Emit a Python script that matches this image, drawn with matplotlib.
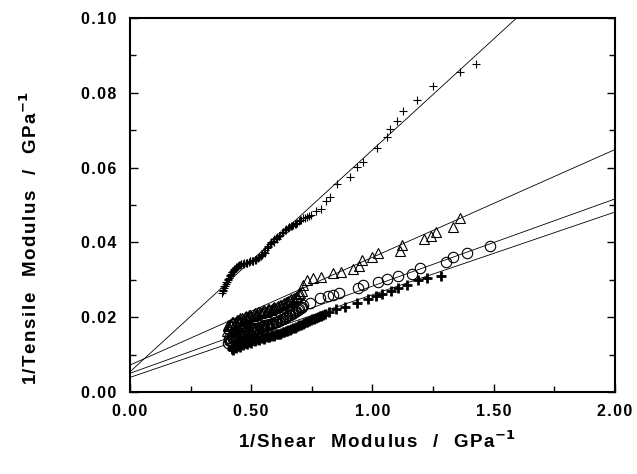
import matplotlib
matplotlib.use("Agg")
import matplotlib.pyplot as plt
from matplotlib.ticker import MultipleLocator, FuncFormatter
import numpy as np

plt.rcParams['font.family'] = ['Liberation Sans', 'DejaVu Sans']
plt.rcParams['mathtext.default'] = 'bf'

# Series 1: thin '+' (steep)
s1_x = [0.379, 0.384, 0.388, 0.392, 0.396, 0.400, 0.404, 0.408, 0.412, 0.417, 0.421, 0.425,
        0.429, 0.433, 0.437, 0.441, 0.445, 0.450, 0.454, 0.460, 0.466, 0.472, 0.478, 0.484,
        0.491, 0.497, 0.503, 0.509, 0.515, 0.521, 0.528, 0.534, 0.540, 0.546, 0.553, 0.559,
        0.565, 0.571, 0.577, 0.584, 0.590, 0.596, 0.602, 0.608, 0.614, 0.620, 0.627, 0.633,
        0.639, 0.645, 0.652, 0.658, 0.664, 0.672, 0.680, 0.689, 0.697, 0.705, 0.713, 0.722,
        0.730, 0.738, 0.746, 0.767, 0.788, 0.808, 0.825, 0.854, 0.907, 0.936, 0.961, 1.019,
        1.060, 1.072, 1.101, 1.126, 1.184, 1.249, 1.361, 1.427,
        0.382, 0.390, 0.398, 0.406, 0.414, 0.423, 0.431, 0.439, 0.447, 0.457, 0.469, 0.481,
        0.494, 0.506, 0.518, 0.531, 0.543, 0.556, 0.568, 0.580, 0.593, 0.605, 0.617, 0.630,
        0.642, 0.655, 0.668, 0.685, 0.701]
s1_y = [0.0265, 0.0272, 0.0278, 0.0284, 0.0289, 0.0295, 0.0299, 0.0305, 0.0310, 0.0316, 0.0321, 0.0323,
        0.0326, 0.0330, 0.0332, 0.0335, 0.0337, 0.0339, 0.0340, 0.0341, 0.0342, 0.0344, 0.0345, 0.0346,
        0.0348, 0.0349, 0.0350, 0.0351, 0.0353, 0.0355, 0.0358, 0.0361, 0.0364, 0.0369, 0.0374, 0.0379,
        0.0385, 0.0390, 0.0396, 0.0400, 0.0404, 0.0408, 0.0412, 0.0414, 0.0417, 0.0421, 0.0425, 0.0429,
        0.0433, 0.0436, 0.0439, 0.0441, 0.0444, 0.0446, 0.0449, 0.0453, 0.0457, 0.0461, 0.0465, 0.0466,
        0.0468, 0.0470, 0.0473, 0.0484, 0.0489, 0.0511, 0.0521, 0.0556, 0.0575, 0.0602, 0.0615, 0.0652,
        0.0682, 0.0703, 0.0725, 0.0751, 0.0781, 0.0818, 0.0856, 0.0877,
        0.0270, 0.0283, 0.0293, 0.0301, 0.0314, 0.0321, 0.0329, 0.0333, 0.0337, 0.0342, 0.0342, 0.0346,
        0.0349, 0.0350, 0.0354, 0.0360, 0.0366, 0.0372, 0.0387, 0.0398, 0.0402, 0.0410, 0.0416, 0.0427,
        0.0434, 0.0440, 0.0444, 0.0450, 0.0459]

# Series 2: open triangles
s2_x = [0.400, 0.403, 0.408, 0.412, 0.418, 0.425, 0.432, 0.440, 0.448, 0.456, 0.465, 0.474,
        0.483, 0.492, 0.501, 0.510, 0.520, 0.530, 0.540, 0.550, 0.560, 0.570, 0.580, 0.590,
        0.600, 0.612, 0.624, 0.636, 0.648, 0.660, 0.672, 0.684, 0.696, 0.708, 0.715, 0.729,
        0.756, 0.790, 0.836, 0.869, 0.921, 0.946, 0.958, 0.997, 1.024, 1.116, 1.124, 1.212,
        1.244, 1.262, 1.333, 1.361,
        0.405, 0.415, 0.422, 0.436, 0.444, 0.452, 0.461, 0.470, 0.479, 0.488, 0.497, 0.506,
        0.515, 0.525, 0.535, 0.545, 0.555, 0.565, 0.575, 0.585, 0.595, 0.606, 0.618, 0.630,
        0.642, 0.654, 0.666, 0.678, 0.690, 0.702]
s2_y = [0.0164, 0.0176, 0.0170, 0.0183, 0.0179, 0.0188, 0.0184, 0.0192, 0.0189, 0.0197, 0.0193, 0.0201,
        0.0198, 0.0205, 0.0202, 0.0209, 0.0206, 0.0213, 0.0211, 0.0217, 0.0215, 0.0221, 0.0219, 0.0225,
        0.0224, 0.0230, 0.0233, 0.0238, 0.0241, 0.0246, 0.0250, 0.0255, 0.0263, 0.0270, 0.0287, 0.0299,
        0.0304, 0.0308, 0.0319, 0.0322, 0.0328, 0.0337, 0.0353, 0.0360, 0.0373, 0.0377, 0.0393, 0.0408,
        0.0418, 0.0429, 0.0440, 0.0464,
        0.0180, 0.0178, 0.0186, 0.0186, 0.0193, 0.0191, 0.0198, 0.0196, 0.0202, 0.0200, 0.0206, 0.0204,
        0.0210, 0.0208, 0.0215, 0.0213, 0.0219, 0.0217, 0.0223, 0.0221, 0.0227, 0.0226, 0.0232, 0.0236,
        0.0240, 0.0244, 0.0248, 0.0252, 0.0258, 0.0265]

# Series 3: open circles
s3_x = [0.405, 0.410, 0.416, 0.422, 0.428, 0.435, 0.442, 0.450, 0.458, 0.466, 0.474, 0.482,
        0.490, 0.499, 0.508, 0.517, 0.526, 0.535, 0.545, 0.555, 0.565, 0.575, 0.586, 0.597,
        0.608, 0.620, 0.632, 0.644, 0.656, 0.668, 0.680, 0.692, 0.704, 0.715, 0.742, 0.784,
        0.818, 0.838, 0.863, 0.942, 0.962, 1.024, 1.061, 1.107, 1.162, 1.196, 1.303, 1.331,
        1.391, 1.485,
        0.408, 0.413, 0.419, 0.425, 0.431, 0.438, 0.446, 0.454, 0.462, 0.470, 0.478, 0.486,
        0.495, 0.504, 0.512, 0.521, 0.530, 0.540, 0.550, 0.560, 0.570, 0.580, 0.591, 0.602,
        0.614, 0.626, 0.638, 0.650, 0.662, 0.674, 0.686, 0.698, 0.710]
s3_y = [0.0132, 0.0144, 0.0139, 0.0150, 0.0145, 0.0154, 0.0149, 0.0158, 0.0153, 0.0162, 0.0157, 0.0165,
        0.0161, 0.0168, 0.0165, 0.0172, 0.0169, 0.0175, 0.0173, 0.0179, 0.0177, 0.0183, 0.0181, 0.0187,
        0.0186, 0.0192, 0.0196, 0.0200, 0.0205, 0.0209, 0.0214, 0.0219, 0.0225, 0.0233, 0.0237, 0.0251,
        0.0257, 0.0259, 0.0264, 0.0277, 0.0286, 0.0295, 0.0301, 0.0310, 0.0316, 0.0332, 0.0348, 0.0360,
        0.0371, 0.0390,
        0.0140, 0.0136, 0.0146, 0.0142, 0.0150, 0.0148, 0.0153, 0.0156, 0.0158, 0.0159, 0.0161, 0.0163,
        0.0165, 0.0167, 0.0168, 0.0170, 0.0172, 0.0174, 0.0176, 0.0178, 0.0180, 0.0182, 0.0184, 0.0186,
        0.0189, 0.0194, 0.0198, 0.0202, 0.0207, 0.0211, 0.0216, 0.0222, 0.0228]

# Series 4: bold '+'
s4_x = [0.420, 0.426, 0.432, 0.438, 0.445, 0.452, 0.459, 0.466, 0.474, 0.482, 0.490, 0.498,
        0.507, 0.516, 0.525, 0.534, 0.544, 0.554, 0.564, 0.574, 0.585, 0.596, 0.607, 0.618,
        0.630, 0.642, 0.654, 0.666, 0.679, 0.692, 0.705, 0.718, 0.732, 0.746, 0.760, 0.775,
        0.790, 0.806, 0.822, 0.852, 0.887, 0.935, 0.983, 1.017, 1.038, 1.079, 1.107, 1.141,
        1.189, 1.224, 1.285,
        0.423, 0.429, 0.435, 0.442, 0.449, 0.456, 0.463, 0.470, 0.478, 0.486, 0.494, 0.503,
        0.512, 0.521, 0.530, 0.539, 0.549, 0.559, 0.569, 0.580, 0.591, 0.602, 0.613, 0.624,
        0.636, 0.648, 0.660, 0.673, 0.686, 0.699, 0.712, 0.725, 0.739, 0.753, 0.768, 0.783,
        0.798]
s4_y = [0.0118, 0.0112, 0.0123, 0.0117, 0.0127, 0.0121, 0.0131, 0.0125, 0.0134, 0.0129, 0.0137, 0.0132,
        0.0140, 0.0136, 0.0143, 0.0139, 0.0146, 0.0143, 0.0149, 0.0147, 0.0152, 0.0151, 0.0156, 0.0155,
        0.0160, 0.0162, 0.0166, 0.0169, 0.0172, 0.0176, 0.0180, 0.0184, 0.0188, 0.0192, 0.0196, 0.0200,
        0.0204, 0.0208, 0.0213, 0.0221, 0.0228, 0.0237, 0.0248, 0.0257, 0.0262, 0.0271, 0.0277, 0.0286,
        0.0299, 0.0304, 0.0310,
        0.0115, 0.0120, 0.0120, 0.0125, 0.0124, 0.0128, 0.0128, 0.0132, 0.0131, 0.0135, 0.0134, 0.0138,
        0.0138, 0.0141, 0.0141, 0.0144, 0.0145, 0.0147, 0.0148, 0.0150, 0.0152, 0.0154, 0.0156, 0.0158,
        0.0161, 0.0164, 0.0167, 0.0170, 0.0174, 0.0178, 0.0182, 0.0186, 0.0190, 0.0194, 0.0198, 0.0202,
        0.0206]

# Fitted lines: intercept, slope
fit_intercepts = [0.0054, 0.0072, 0.0050, 0.0039]
fit_slopes = [0.0593, 0.0288, 0.0233, 0.0221]

HS = '\u200a'


def spaced(s):
    return HS.join(s)


fig = plt.figure(figsize=(6.37, 4.74), dpi=100)
ax = fig.add_axes([0.204, 0.173, 0.761, 0.789])

xl = np.array([0.0, 2.0])
for b, m in zip(fit_intercepts, fit_slopes):
    ax.plot(xl, b + m * xl, color='black', lw=0.6, zorder=2)

ax.plot(s1_x, s1_y, ls='none', marker='+', ms=6, mew=0.8, color='black', zorder=3)
ax.plot(s2_x, s2_y, ls='none', marker='^', ms=7.5, mew=0.8, mfc='none', mec='black', zorder=3)
ax.plot(s3_x, s3_y, ls='none', marker='o', ms=7.5, mew=0.8, mfc='none', mec='black', zorder=3)
ax.plot(s4_x, s4_y, ls='none', marker='+', ms=7, mew=2.0, color='black', zorder=3)

ax.set_xlim(0, 2.0)
ax.set_ylim(0, 0.10)
ax.xaxis.set_major_locator(MultipleLocator(0.5))
ax.xaxis.set_minor_locator(MultipleLocator(0.25))
ax.yaxis.set_major_locator(MultipleLocator(0.02))
ax.yaxis.set_minor_locator(MultipleLocator(0.01))
fmt = FuncFormatter(lambda v, p: spaced('%.2f' % v))
ax.xaxis.set_major_formatter(fmt)
ax.yaxis.set_major_formatter(fmt)
ax.tick_params(which='both', direction='in', right=True, top=False, width=1.0)
ax.tick_params(which='major', length=6, labelsize=11.5)
ax.tick_params(axis='x', which='major', pad=9)
ax.tick_params(axis='y', which='major', pad=10)
ax.tick_params(which='minor', length=4)
for lab in ax.get_xticklabels() + ax.get_yticklabels():
    lab.set_fontweight('bold')
for sp in ax.spines.values():
    sp.set_linewidth(1.5)

xlab = '   '.join(spaced(w) for w in ['1/Shear', 'Modulus', '/', 'GPa']) + '$^{-1}$'
ylab = '   '.join(spaced(w) for w in ['1/Tensile', 'Modulus', '/', 'GPa']) + '$^{-1}$'
fig.text(377 / 637, 1 - 441 / 474, xlab, ha='center', va='center', fontsize=13.5, fontweight='bold')
fig.text(30 / 637, 1 - 238 / 474, ylab, ha='center', va='center', rotation=90,
         fontsize=13.5, fontweight='bold')

fig.savefig('out.png', dpi=100)
